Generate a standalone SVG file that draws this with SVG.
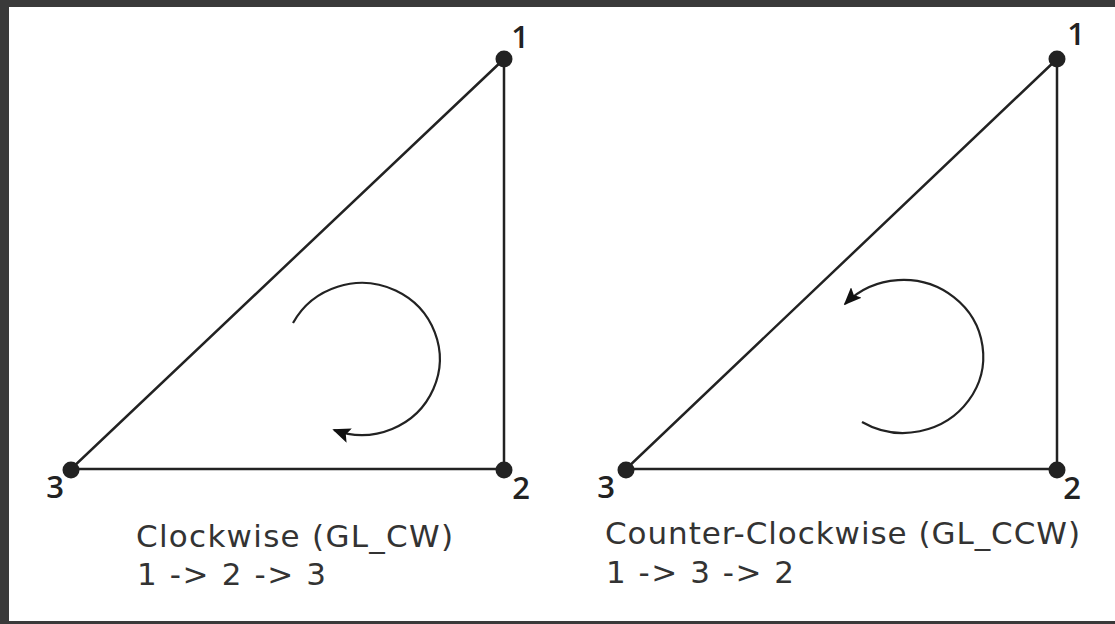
<svg xmlns="http://www.w3.org/2000/svg" width="1115" height="624" viewBox="0 0 1115 624">
<style>
.edge{fill:none;stroke:#222;stroke-width:2.5;stroke-linecap:round}
.arc{fill:none;stroke:#222;stroke-width:2.2}
.dot{fill:#222}
.lbl{font-family:"Open Sans","Noto Sans",sans-serif;font-size:31px;font-weight:600;fill:#222;text-anchor:middle}
.cap{font-family:"DejaVu Sans","Verdana",sans-serif;font-size:31px;fill:#333}
</style>
<defs>
<marker id="ah" viewBox="0 0 10 10" refX="9" refY="5" markerUnits="userSpaceOnUse" markerWidth="18" markerHeight="15" orient="auto" preserveAspectRatio="none">
<path d="M0,0 L10,5 L0,10 L2,5 z" fill="#111"/>
</marker>
</defs>
<rect width="1115" height="624" fill="#fff"/>
<rect x="0" y="0" width="1115" height="7" fill="#3a3a3a"/>
<rect x="0" y="0" width="9" height="624" fill="#3a3a3a"/>
<rect x="0" y="621" width="1115" height="3" fill="#3a3a3a"/>
<g id="connectors">
<path class="edge" d="M504 59 L504 469 L71 469 Z"/>
<path class="edge" d="M1057 59 L1057 469 L626 469 Z"/>
<path class="arc" d="M293 323 A78 76 0 1 1 334 430" marker-end="url(#ah)"/>
<path class="arc" d="M862 422 A80 76.5 0 1 0 845 304" marker-end="url(#ah)"/>
</g>
<g id="left-v1"><circle class="dot" cx="504" cy="59" r="8.5"/><text class="lbl" x="520" y="48">1</text></g>
<g id="left-v2"><circle class="dot" cx="504" cy="470" r="8.5"/><text class="lbl" x="521" y="499">2</text></g>
<g id="left-v3"><circle class="dot" cx="71" cy="470" r="8.5"/><text class="lbl" x="55" y="498">3</text></g>
<g id="right-v1"><circle class="dot" cx="1057" cy="59" r="8.5"/><text class="lbl" x="1076" y="45">1</text></g>
<g id="right-v2"><circle class="dot" cx="1057" cy="470" r="8.5"/><text class="lbl" x="1072" y="499">2</text></g>
<g id="right-v3"><circle class="dot" cx="626" cy="470" r="8.5"/><text class="lbl" x="606" y="498">3</text></g>
<g id="left-caption">
<text class="cap" x="136" y="547" textLength="317" lengthAdjust="spacing">Clockwise (GL_CW)</text>
<text class="cap" x="137" y="585" textLength="189" lengthAdjust="spacing">1 -&gt; 2 -&gt; 3</text>
</g>
<g id="right-caption">
<text class="cap" x="605" y="544" textLength="475" lengthAdjust="spacing">Counter-Clockwise (GL_CCW)</text>
<text class="cap" x="606" y="583" textLength="188" lengthAdjust="spacing">1 -&gt; 3 -&gt; 2</text>
</g>
</svg>
